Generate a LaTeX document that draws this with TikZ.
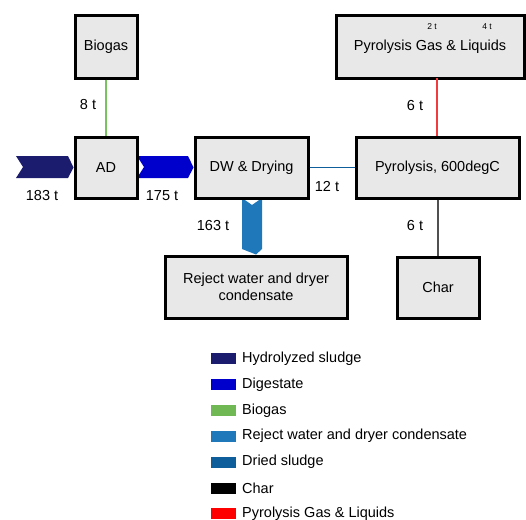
\documentclass[tikz,border=0pt]{standalone}
\usepackage{fontspec}
\setmainfont{Liberation Sans}
\usetikzlibrary{backgrounds}
\begin{document}
\definecolor{boxfill}{RGB}{232,232,232}
\definecolor{hydro}{RGB}{28,28,110}
\definecolor{digest}{RGB}{0,0,204}
\definecolor{biogas}{RGB}{112,184,84}
\definecolor{biogasline}{RGB}{120,195,95}
\definecolor{reject}{RGB}{30,120,185}
\definecolor{dried}{RGB}{14,94,156}
\definecolor{charline}{RGB}{80,80,80}
\definecolor{gasline}{RGB}{240,60,60}
\begin{tikzpicture}[x=1pt,y=-1pt,
  unit/.style={draw=black,line width=3pt,fill=boxfill,inner sep=0pt,
    font=\fontsize{14.5}{16.5}\selectfont,align=center},
  lbl/.style={font=\fontsize{14.5}{16}\selectfont,inner sep=0pt},
  tiny/.style={font=\fontsize{8.5}{9}\selectfont,inner sep=0pt},
  legsw/.style={minimum width=25pt,minimum height=11pt,inner sep=0pt,draw=none},
  legtx/.style={font=\fontsize{14.5}{16}\selectfont,anchor=west,inner sep=0pt}]
\useasboundingbox (0,0) rectangle (526,519);
\clip (0,0) rectangle (526,519);

% process units
\node[unit,minimum width=62pt,minimum height=62pt] (biogas) at (106,47) {Biogas};
\node[unit,minimum width=62pt,minimum height=61pt] (ad) at (106,167.5) {AD};
\node[unit,minimum width=113pt,minimum height=61pt] (dw) at (251.5,167.5) {DW \& Drying};
\node[unit,minimum width=163pt,minimum height=61pt] (pyro) at (437.5,167.5) {Pyrolysis, 600degC};
\node[unit,minimum width=188pt,minimum height=62pt] (gas) at (430,47) {Pyrolysis Gas \& Liquids};
\node[unit,minimum width=82pt,minimum height=61pt] (char) at (438,287.5) {Char};
\node[unit,minimum width=182pt,minimum height=62pt] (rej) at (256,287) {Reject water and dryer\\condensate};

% single-line flows
\draw[biogasline,line width=1.2pt] (biogas.south) -- (ad.north);
\draw[dried,line width=1.5pt] (dw.east) -- (pyro.west);
\coordinate (gasfoot) at (437,78);
\draw[gasline,line width=1.2pt] (gasfoot) -- (pyro.north -| gasfoot);
\draw[charline,line width=1.2pt] (pyro.south -| char.north) -- (char.north);

% chevron flows, kept behind the unit boxes
\begin{scope}[on background layer]
\coordinate (inlet) at (16,167);
\fill[hydro] (16,156) -- (68,156) -- (ad.west) -- (68,178) -- (16,178) -- (23,167) -- cycle;
\fill[digest] (137,156) -- (188,156) -- (dw.west) -- (188,178) -- (137,178) -- (144,167) -- cycle;
\fill[reject] (242,198) -- (252,205) -- (262,198) -- (262,249) -- (rej.north) -- (242,249) -- cycle;
\end{scope}

% stream quantities
\node[lbl] (q8) at (88,105) {8 t};
\node[lbl] (q183) at (42,196) {183 t};
\node[lbl] (q175) at (162,196) {175 t};
\node[lbl] (q163) at (213,226) {163 t};
\node[lbl] (q12) at (327,186) {12 t};
\node[lbl] (q6a) at (415,106) {6 t};
\node[lbl] (q6b) at (415,226) {6 t};
\node[tiny] (q2) at (432,27) {2 t};
\node[tiny] (q4) at (487,27) {4 t};

% legend
\foreach \c/\t [count=\i from 0] in {hydro/Hydrolyzed sludge,digest/Digestate,biogas/Biogas,
    reject/Reject water and dryer condensate,dried/Dried sludge,black/Char,red/Pyrolysis Gas \& Liquids}{
  \node[legsw,fill=\c] (sw\i) at (223.5,358.5+25.9*\i) {};
  \node[legtx] (lt\i) at (242,358.5+25.9*\i) {\t};
}
\end{tikzpicture}
\end{document}
